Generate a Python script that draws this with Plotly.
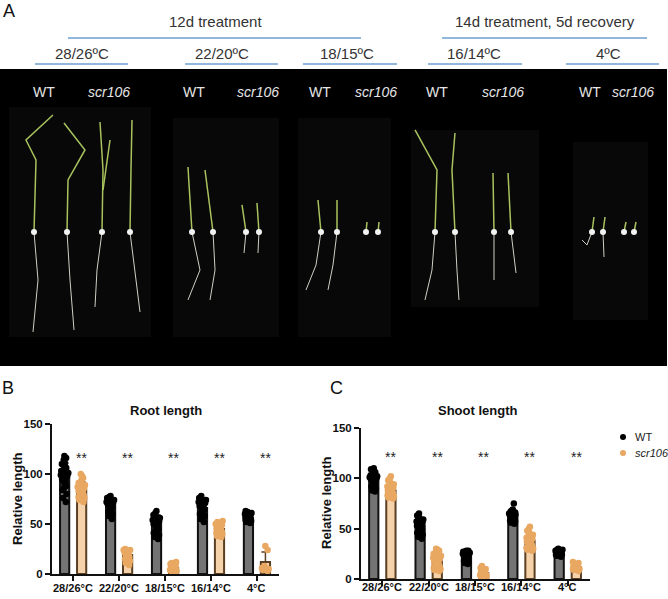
import plotly.graph_objects as go

W, H = 668, 599

# ---- data ----
temps = ["28/26°C", "22/20°C", "18/15°C", "16/14°C", "4°C"]

root_wt_mean = [100, 70, 51, 66, 56]
root_wt_sd = [11, 6, 8, 7, 3]
root_scr_mean = [84, 19, 6, 45, 12]
root_scr_sd = [8, 5, 3, 5, 10]

root_wt_pts = [
    [118, 116, 114, 112, 110, 109, 108, 106, 105, 104, 103, 102, 101, 100, 99, 98, 97, 96, 95, 93, 92, 90, 88, 86, 84, 80, 76, 72],
    [78, 77, 76, 75, 74, 73, 72, 72, 71, 70, 70, 69, 68, 67, 66, 64, 62, 60, 58, 55],
    [63, 61, 59, 57, 56, 55, 54, 53, 52, 51, 50, 49, 48, 46, 45, 43, 41, 39, 37, 35],
    [78, 76, 75, 74, 73, 72, 71, 70, 69, 68, 67, 66, 65, 64, 62, 60, 58, 55, 52],
    [63, 62, 61, 60, 60, 59, 58, 58, 57, 57, 56, 56, 55, 55, 54, 53, 52, 51],
]
root_scr_pts = [
    [100, 98, 96, 94, 92, 91, 90, 89, 88, 87, 86, 85, 84, 83, 82, 81, 80, 79, 78, 77, 76, 74, 72],
    [25, 24, 24, 23, 22, 21, 20, 19, 18, 17, 16, 15, 13, 11, 9],
    [12, 11, 10, 9, 8, 7, 7, 6, 6, 5, 5, 4, 4, 3, 3, 2],
    [53, 52, 50, 49, 48, 47, 46, 46, 45, 44, 43, 42, 41, 40, 38, 37],
    [28, 24, 8, 6, 5, 4, 3],
]

shoot_wt_mean = [100, 53, 23, 63, 26]
shoot_wt_sd = [5, 7, 4, 5, 2]
shoot_scr_mean = [88, 18, 6, 38, 12]
shoot_scr_sd = [6, 7, 3, 7, 3]

shoot_wt_pts = [
    [110, 109, 108, 107, 106, 105, 104, 103, 102, 102, 101, 101, 100, 100, 99, 99, 98, 97, 96, 95, 94, 92, 90, 88, 87],
    [65, 63, 61, 59, 58, 57, 56, 55, 54, 53, 52, 51, 50, 49, 48, 46, 44, 42, 40],
    [28, 28, 27, 27, 26, 26, 25, 25, 24, 24, 23, 23, 22, 22, 21, 20, 19, 18, 17, 16, 15],
    [75, 69, 68, 67, 66, 66, 65, 65, 64, 64, 63, 63, 62, 62, 61, 60, 59, 58, 57, 56, 55],
    [30, 29, 29, 28, 28, 27, 27, 26, 26, 26, 25, 25, 25, 24, 24, 23, 22],
]
shoot_scr_pts = [
    [102, 100, 98, 96, 94, 93, 92, 91, 90, 89, 88, 88, 87, 86, 85, 84, 83, 82, 81, 80],
    [30, 29, 28, 27, 26, 25, 24, 23, 22, 21, 20, 19, 18, 17, 16, 15, 14, 13, 12, 11, 10, 9, 8],
    [13, 11, 10, 9, 8, 7, 6, 6, 5, 5, 4, 4, 3, 2, 1],
    [52, 50, 48, 46, 44, 42, 41, 40, 39, 38, 37, 36, 35, 34, 33, 32, 31, 30, 29, 28],
    [17, 16, 15, 14, 13, 13, 12, 12, 11, 11, 10, 10, 9, 8],
]

# header labels of panel A
top_groups = ["12d treatment", "14d treatment, 5d recovery"]
sub_groups = ["28/26ºC", "22/20ºC", "18/15ºC", "16/14ºC", "4ºC"]
genotypes = ["WT", "scr106"]

FONT = "Liberation Sans, Arial, sans-serif"
WT_FILL, WT_DOT = "#747474", "#000000"
SCR_FILL, SCR_DOT, SCR_LINE = "#f6d2ab", "#e9a862", "#5a3f22"
BLUE = "#6c9fd0"


def fx(p):
    return p / W


def fy(p):
    return 1 - p / H


fig = go.Figure()

OFF = 0.185
BW = 0.2


def add_panel(xa, ya, wt_mean, wt_sd, scr_mean, scr_sd, wt_pts, scr_pts):
    idx = list(range(len(temps)))
    fig.add_trace(go.Bar(x=idx, y=wt_mean, width=BW, offset=-OFF - BW / 2,
                         marker=dict(color=WT_FILL, line=dict(color="#111", width=2)),
                         error_y=dict(type="data", array=wt_sd, arrayminus=[0] * 5, symmetric=False,
                                      color="#111", thickness=1.5, width=4),
                         xaxis=xa, yaxis=ya, showlegend=False, hoverinfo="skip"))
    fig.add_trace(go.Bar(x=idx, y=scr_mean, width=BW, offset=OFF - BW / 2,
                         marker=dict(color=SCR_FILL, line=dict(color=SCR_LINE, width=2)),
                         error_y=dict(type="data", array=scr_sd, arrayminus=[0] * 5, symmetric=False,
                                      color=SCR_LINE, thickness=1.5, width=4),
                         xaxis=xa, yaxis=ya, showlegend=False, hoverinfo="skip"))
    for i in idx:
        for pts, pos, col in ((wt_pts[i], i - OFF, WT_DOT), (scr_pts[i], i + OFF, SCR_DOT)):
            fig.add_trace(go.Box(x=[pos] * len(pts), y=pts, width=BW, boxpoints="all", jitter=0.9,
                                 pointpos=0, fillcolor="rgba(0,0,0,0)",
                                 line=dict(width=0, color=col),
                                 marker=dict(color=col, size=6.5, line=dict(width=0)),
                                 xaxis=xa, yaxis=ya, showlegend=False, hoverinfo="skip"))


add_panel("x", "y", root_wt_mean, root_wt_sd, root_scr_mean, root_scr_sd, root_wt_pts, root_scr_pts)
add_panel("x2", "y2", shoot_wt_mean, shoot_wt_sd, shoot_scr_mean, shoot_scr_sd, shoot_wt_pts, shoot_scr_pts)

xcommon = dict(range=[-0.46, 4.48], tickvals=list(range(5)), showticklabels=False, showline=True,
               linewidth=2, linecolor="#111", ticks="outside", ticklen=5, tickwidth=2,
               tickcolor="#111", showgrid=False, zeroline=False, automargin=False)
ycommon = dict(range=[0, 150], tickvals=[0, 50, 100, 150], showline=True, linewidth=2,
               linecolor="#111", ticks="outside", ticklen=5, tickwidth=2, tickcolor="#111",
               showgrid=False, zeroline=False, automargin=False,
               tickfont=dict(family=FONT, size=11.5, color="#111", weight="bold"))

fig.update_layout(
    width=W, height=H, margin=dict(l=0, r=0, t=0, b=0, autoexpand=False),
    paper_bgcolor="white", plot_bgcolor="rgba(0,0,0,0)",
    barmode="overlay", boxmode="overlay", showlegend=False,
    xaxis=dict(domain=[fx(52), fx(279)], anchor="y", **xcommon),
    yaxis=dict(domain=[fy(574), fy(424)], anchor="x", **ycommon),
    xaxis2=dict(domain=[fx(361), fx(590)], anchor="y2", **xcommon),
    yaxis2=dict(domain=[fy(579), fy(428)], anchor="x2", **ycommon),
    font=dict(family=FONT),
)

shapes = []
ann = []


def label(txt, xc, yc, size, color="#111", **kw):
    d = dict(x=fx(xc), y=fy(yc), xref="paper", yref="paper", showarrow=False, text=txt,
             xanchor="center", yanchor="middle", font=dict(family=FONT, size=size, color=color))
    d.update(kw)
    ann.append(d)


# ---- panel A: photo stand-in ----
shapes.append(dict(type="rect", xref="paper", yref="paper", x0=fx(0), x1=fx(667), y0=fy(366), y1=fy(69),
                   fillcolor="#000", line=dict(width=0), layer="below"))
for x0, x1, y0, y1 in [(9, 151, 107, 337), (173, 279, 118, 337), (298, 391, 118, 337),
                       (411, 539, 130, 307), (573, 648, 142, 320)]:
    shapes.append(dict(type="rect", xref="paper", yref="paper", x0=fx(x0), x1=fx(x1), y0=fy(y1), y1=fy(y0),
                       fillcolor="#080808", line=dict(width=0), layer="below"))

shoots = [
    [(34, 232), (36, 160), (26, 140), (53, 115)], [(67, 232), (68, 180), (85, 150), (64, 123)],
    [(102, 232), (103, 170), (100, 122)], [(103, 190), (110, 140)], [(130, 232), (131, 170), (132, 120)],
    [(192, 232), (188, 167)], [(213, 232), (205, 170)], [(246, 232), (242, 205)], [(259, 232), (257, 203)],
    [(321, 232), (318, 200)], [(337, 232), (337, 200)], [(366, 232), (367, 222)], [(378, 232), (379, 222)],
    [(435, 232), (437, 170), (415, 130)], [(455, 232), (452, 170), (455, 133)],
    [(494, 232), (493, 173)], [(511, 232), (508, 173)],
    [(592, 232), (594, 217)], [(603, 232), (605, 217)], [(624, 232), (626, 222)], [(634, 232), (636, 222)],
]
roots = [
    [(34, 232), (38, 280), (33, 332)], [(67, 232), (70, 280), (74, 330)], [(102, 232), (97, 270), (95, 307)],
    [(130, 232), (136, 280), (140, 312)],
    [(192, 232), (200, 270), (188, 300)], [(213, 232), (215, 270), (210, 300)],
    [(246, 232), (244, 253)], [(259, 232), (258, 253)],
    [(321, 232), (316, 265), (306, 290)], [(337, 232), (333, 265), (328, 290)],
    [(435, 232), (432, 270), (425, 300)], [(455, 232), (457, 270), (459, 300)],
    [(494, 232), (494, 280)], [(511, 232), (516, 273)],
    [(592, 232), (587, 245), (582, 240)], [(603, 232), (604, 257)],
]


def path(points):
    return "M " + " L ".join(f"{fx(x):.4f},{fy(y):.4f}" for x, y in points)


for p in shoots:
    shapes.append(dict(type="path", xref="paper", yref="paper", path=path(p),
                       line=dict(color="#a8c35e", width=1.5)))
for p in roots:
    shapes.append(dict(type="path", xref="paper", yref="paper", path=path(p),
                       line=dict(color="#cfcfc4", width=1)))
for p in shoots:
    if p[0][1] == 232:
        x, y = p[0]
        shapes.append(dict(type="circle", xref="paper", yref="paper", x0=fx(x - 3), x1=fx(x + 3),
                           y0=fy(y + 3), y1=fy(y - 3), fillcolor="#f2f2f2", line=dict(width=0)))

for k, xc in enumerate([44, 109, 194, 258, 320, 376, 437, 503, 590, 633]):
    lab = genotypes[k % 2]
    label(f"<i>{lab}</i>" if k % 2 else lab, xc, 92, 14, "#e6e6e6")

# header: treatment groups and temperatures
for txt, xc, l0, l1 in [(top_groups[0], 215, 68, 361), (top_groups[1], 545, 442, 647)]:
    label(txt, xc, 22, 15, "#333")
    shapes.append(dict(type="line", xref="paper", yref="paper", x0=fx(l0), x1=fx(l1), y0=fy(38), y1=fy(38),
                       line=dict(color=BLUE, width=1.5)))
for txt, xc, l0, l1 in zip(sub_groups, [82, 222, 347, 474, 608], [35, 185, 303, 428, 566],
                           [128, 278, 397, 522, 659]):
    label(txt, xc, 54, 15, "#333")
    shapes.append(dict(type="line", xref="paper", yref="paper", x0=fx(l0), x1=fx(l1), y0=fy(64), y1=fy(64),
                       line=dict(color=BLUE, width=1.5)))

# panel letters
for txt, xc, yc in [("A", 9, 11), ("B", 8, 388), ("C", 337, 388)]:
    label(txt, xc, yc, 18)

# chart titles and y-axis titles
for txt, xc in [("Root length", 166), ("Shoot length", 477)]:
    label(f"<b>{txt}</b>", xc, 410, 13)
for xc, yc in [(17, 499), (326, 503)]:
    label("<b>Relative length</b>", xc, yc, 13, textangle=-90)

# category labels under each x axis
for xa, yc in [("x", 588), ("x2", 587)]:
    for i, t in enumerate(temps):
        ann.append(dict(x=i, y=fy(yc), xref=xa, yref="paper", showarrow=False, text=f"<b>{t}</b>",
                        xanchor="center", yanchor="middle", font=dict(family=FONT, size=11, color="#111")))

# legend (drawn by hand to match the reference placement)
for k, (col, yc) in enumerate([(WT_DOT, 437), (SCR_DOT, 453)]):
    shapes.append(dict(type="circle", xref="paper", yref="paper", x0=fx(620), x1=fx(626),
                       y0=fy(yc + 3), y1=fy(yc - 3), fillcolor=col, line=dict(width=0)))
    label(f"<i>{genotypes[k]}</i>" if k else genotypes[k], 633, yc, 11, "#222", xanchor="left")

# significance marks
for xa, ya, yv in [("x", "y", 116), ("x2", "y2", 121)]:
    for i in range(len(temps)):
        ann.append(dict(x=i + OFF, y=yv, xref=xa, yref=ya, showarrow=False, text="**",
                        font=dict(family=FONT, size=14, color="#222")))

fig.update_layout(shapes=shapes, annotations=ann)
fig.write_html("out.html", config={"displayModeBar": False},
               post_script="document.body.style.margin='0';")
